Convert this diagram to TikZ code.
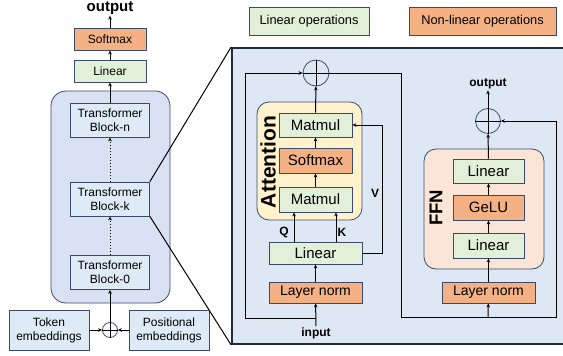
\documentclass[tikz,border=0pt]{standalone}
\usepackage{fontspec}
\setmainfont{Liberation Sans}
\usepackage{tikz}
\usetikzlibrary{arrows.meta}

\definecolor{linfill}{HTML}{E2F0D9}
\definecolor{nlfill}{HTML}{F4B183}
\definecolor{edge}{HTML}{3B4A6B}
\definecolor{navy}{HTML}{1F2A44}
\definecolor{stackfill}{HTML}{D9E2F3}
\definecolor{panelfill}{HTML}{DEE8F5}
\definecolor{blockfill}{HTML}{DEEBF7}
\definecolor{attfill}{HTML}{FFF2CC}
\definecolor{ffnfill}{HTML}{FBE5D6}

\newcommand{\smallfnt}{\fontsize{12}{14}\selectfont}
\newcommand{\legfnt}{\fontsize{12.8}{14}\selectfont}
\newcommand{\bigfnt}{\fontsize{15}{17}\selectfont}
\newcommand{\normfnt}{\fontsize{14}{16}\selectfont}

\begin{document}
\begin{tikzpicture}[x=1pt, y=-1pt,
  lin/.style={draw=edge, fill=linfill, inner sep=0pt, line width=0.8pt},
  nonlin/.style={draw=edge, fill=nlfill, inner sep=0pt, line width=0.8pt},
  tblock/.style={draw=edge, fill=blockfill, align=center, inner sep=0pt, line width=0.8pt,
    minimum width=79pt, minimum height=34pt, font=\smallfnt},
  group/.style={draw=edge, rounded corners=12pt, inner sep=0pt, line width=0.8pt},
  sumnode/.style={circle, draw=edge, inner sep=0pt, line width=0.8pt},
  arr/.style={-{Stealth[length=4pt, width=3.6pt]}, line width=1pt},
  plain/.style={line width=1pt},
  lbl/.style={inner sep=1pt, font=\bfseries\smallfnt}]
  \useasboundingbox (0,0) rectangle (563,356);

  % legend
  \node [lin, minimum width=120pt, minimum height=28pt, font=\legfnt] (leglin) at (309,21) {Linear operations};
  \node [nonlin, minimum width=147pt, minimum height=28pt, font=\legfnt] (legnl) at (482.5,21) {Non-linear operations};

  % left stack
  \node [inner sep=1pt, font=\bfseries\bigfnt] (out) at (110,8) {output};
  \node [nonlin, minimum width=72pt, minimum height=22pt, font=\smallfnt] (smax) at (110,39) {Softmax};
  \node [lin, minimum width=72pt, minimum height=22pt, font=\smallfnt] (lin) at (110,71) {Linear};
  \node [group, fill=stackfill, rounded corners=15pt, minimum width=119pt, minimum height=212pt] (stack) at (110.5,197) {};
  \node [tblock] (blkn) at (110,120) {Transformer\\Block-n};
  \node [tblock] (blkk) at (110,199) {Transformer\\Block-k};
  \node [tblock] (blk0) at (110,272.5) {Transformer\\Block-0};
  \node [tblock, minimum width=80pt, minimum height=40pt] (tok) at (49,330) {Token\\embeddings};
  \node [tblock, minimum width=80pt, minimum height=40pt] (pos) at (169,330) {Positional\\embeddings};
  \node [sumnode, minimum size=15pt] (add0) at (110,330) {};

  \draw [arr] (smax) -- (out);
  \draw [arr] (lin) -- (smax);
  \draw [arr] (blkn) -- (lin);
  \draw [arr, dotted] (blkk) -- (blkn);
  \draw [arr, dotted] (blk0) -- (blkk);
  \draw [arr] (add0.south) -- (blk0);
  \draw [plain] (add0.west) -- (add0.east);
  \draw [arr] (tok) -- (add0);
  \draw [arr] (pos) -- (add0);

  % zoomed panel
  \node [draw=navy, fill=panelfill, line width=1.8pt, inner sep=0pt, minimum width=334pt, minimum height=296pt] (panel) at (399,196) {};
  \draw [plain] (blkk.north east) -- (panel.north west);
  \draw [plain] (blkk.south east) -- (panel.south west);

  % attention
  \node [group, fill=attfill, minimum width=105pt, minimum height=118pt] (attn) at (309.5,161) {};
  \node [rotate=90, inner sep=0pt, font=\bfseries\fontsize{21}{23}\selectfont] (attnlbl) at (268,162) {Attention};
  \node [lin, minimum width=73pt, minimum height=24pt, font=\bigfnt] (mm2) at (315.5,125) {Matmul};
  \node [nonlin, minimum width=73pt, minimum height=25pt, font=\bigfnt] (asmax) at (315.5,160.5) {Softmax};
  \node [lin, minimum width=73pt, minimum height=25pt, font=\bigfnt] (mm1) at (315.5,199.5) {Matmul};
  \node [lin, minimum width=93pt, minimum height=22pt, font=\bigfnt] (alin) at (315.5,253) {Linear};
  \node [nonlin, minimum width=93pt, minimum height=21pt, font=\normfnt] (aln) at (315.5,292.5) {Layer norm};
  \node [sumnode, minimum size=26pt] (add1) at (316,73) {};
  \node [lbl] (inp) at (316,333) {input};
  \node [lbl] (qlbl) at (284,232) {Q};
  \node [lbl] (klbl) at (342,232) {K};
  \node [lbl] (vlbl) at (375,193) {V};
  \coordinate (split1) at (316,318);
  \coordinate (res1a) at (245,318);
  \coordinate (res1b) at (245,73);
  \coordinate (qbot) at (294,242);
  \coordinate (kbot) at (336,242);
  \coordinate (vtop) at (382,125);

  \draw [arr] (inp) -- (aln);
  \draw [plain] (split1) -- (res1a) -- (res1b);
  \draw [arr] (res1b) -- (add1.west);
  \draw [arr] (aln) -- (alin);
  \draw [arr] (qbot) -- (qbot |- mm1.south);
  \draw [arr] (kbot) -- (kbot |- mm1.south);
  \draw [arr] (alin.east) -| (vtop) -- (mm2.east);
  \draw [arr] (mm1) -- (asmax);
  \draw [arr] (asmax) -- (mm2);
  \draw [arr] (mm2) -- (add1);
  \draw [plain] (add1.south) -- (add1.north);

  % ffn
  \node [group, fill=ffnfill, minimum width=120pt, minimum height=120pt] (ffn) at (484,209) {};
  \node [rotate=90, inner sep=0pt, font=\bfseries\fontsize{18.5}{20}\selectfont] (ffnlbl) at (436,208) {FFN};
  \node [lin, minimum width=71pt, minimum height=24pt, font=\bigfnt] (flin2) at (488.5,171) {Linear};
  \node [nonlin, minimum width=71pt, minimum height=25pt, font=\bigfnt] (gelu) at (488.5,207.5) {GeLU};
  \node [lin, minimum width=71pt, minimum height=25pt, font=\bigfnt] (flin1) at (488.5,245.5) {Linear};
  \node [nonlin, minimum width=93pt, minimum height=21pt, font=\normfnt] (fln) at (488.5,292.5) {Layer norm};
  \node [sumnode, minimum size=25pt] (add2) at (488,121) {};
  \node [lbl] (fout) at (488,84) {output};
  \coordinate (c1) at (401,73);
  \coordinate (c2) at (401,317);
  \coordinate (c3) at (488,317);
  \coordinate (c4) at (556,317);
  \coordinate (c5) at (556,121);

  \draw [plain] (add1.west) -- (c1) -- (c2) -- (c4) -- (c5);
  \draw [arr] (c5) -- (add2.east);
  \draw [arr] (c3) -- (fln);
  \draw [arr] (fln) -- (flin1);
  \draw [arr] (flin1) -- (gelu);
  \draw [arr] (gelu) -- (flin2);
  \draw [arr] (flin2) -- (add2);
  \draw [arr] (add2.south) -- (fout);
  \draw [plain] (add2.west) -- (add2.east);
\end{tikzpicture}
\end{document}
